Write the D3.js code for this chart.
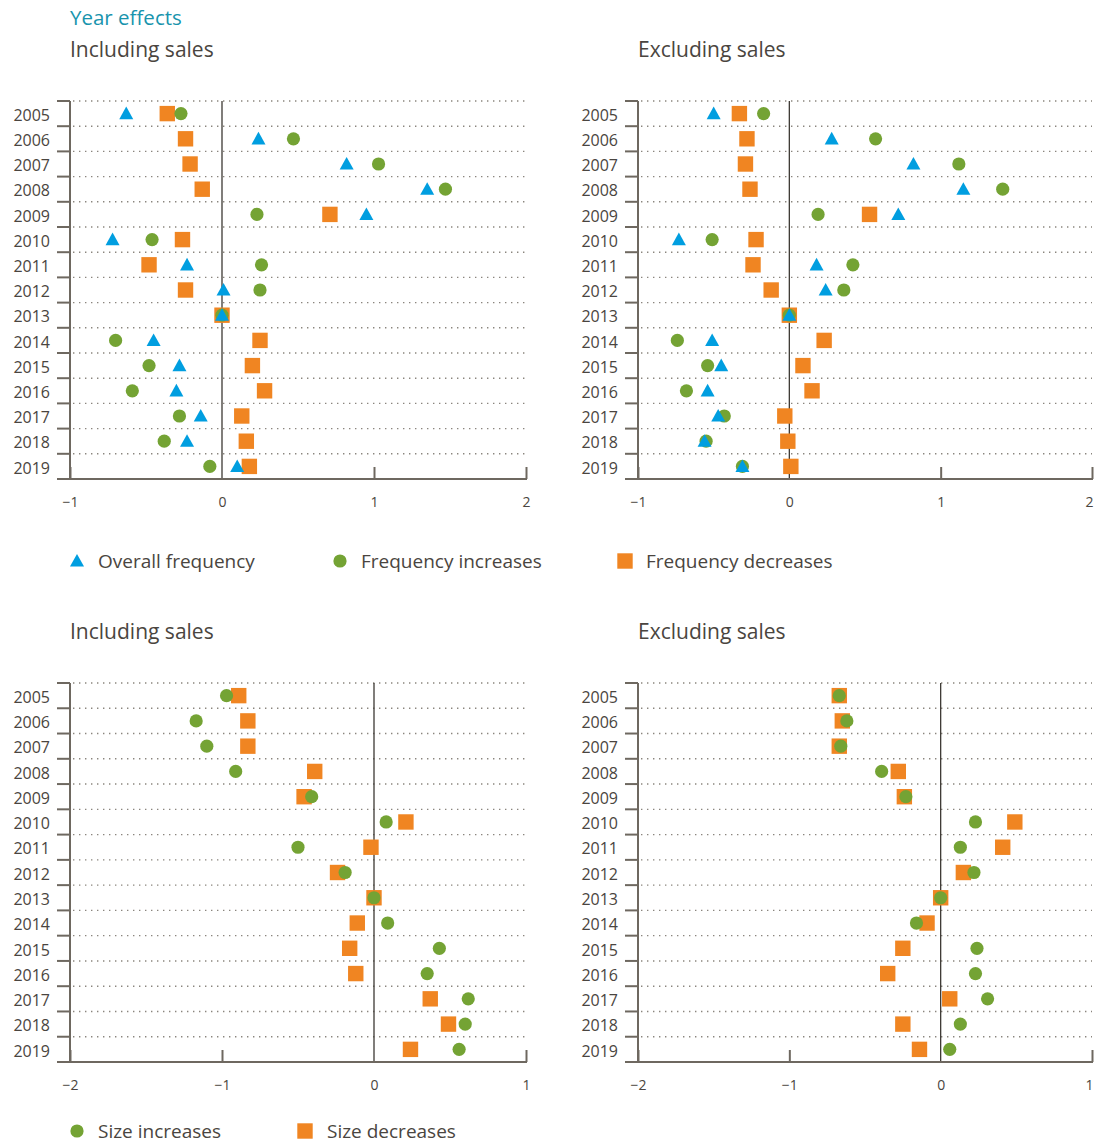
<!DOCTYPE html>
<html>
<head>
<meta charset="utf-8">
<script src="https://cdn.jsdelivr.net/npm/d3@7"></script>
<style>
  html, body { margin: 0; padding: 0; background: #fff; }
  svg { display: block; }
  text { font-family: "Open Sans", "Noto Sans", sans-serif; }
</style>
</head>
<body>
<svg id="chart" width="1094" height="1146"></svg>
<script>
// ---------- DATA ----------
const years = ["2005","2006","2007","2008","2009","2010","2011","2012","2013","2014","2015","2016","2017","2018","2019"];

const ticksFreq = [-1, 0, 1, 2];
const ticksSize = [-2, -1, 0, 1];

// Frequency, including sales
const inclOverallFreq = [-0.63, 0.24, 0.82, 1.35, 0.95, -0.72, -0.23, 0.01, 0, -0.45, -0.28, -0.30, -0.14, -0.23, 0.10];
const inclFreqIncr    = [-0.27, 0.47, 1.03, 1.47, 0.23, -0.46, 0.26, 0.25, 0, -0.70, -0.48, -0.59, -0.28, -0.38, -0.08];
const inclFreqDecr    = [-0.36, -0.24, -0.21, -0.13, 0.71, -0.26, -0.48, -0.24, 0, 0.25, 0.20, 0.28, 0.13, 0.16, 0.18];

// Frequency, excluding sales
const exclOverallFreq = [-0.50, 0.28, 0.82, 1.15, 0.72, -0.73, 0.18, 0.24, 0, -0.51, -0.45, -0.54, -0.47, -0.56, -0.31];
const exclFreqIncr    = [-0.17, 0.57, 1.12, 1.41, 0.19, -0.51, 0.42, 0.36, 0, -0.74, -0.54, -0.68, -0.43, -0.55, -0.31];
const exclFreqDecr    = [-0.33, -0.28, -0.29, -0.26, 0.53, -0.22, -0.24, -0.12, 0, 0.23, 0.09, 0.15, -0.03, -0.01, 0.01];

// Size, including sales
const inclSizeIncr = [-0.97, -1.17, -1.10, -0.91, -0.41, 0.08, -0.50, -0.19, 0, 0.09, 0.43, 0.35, 0.62, 0.60, 0.56];
const inclSizeDecr = [-0.89, -0.83, -0.83, -0.39, -0.46, 0.21, -0.02, -0.24, 0, -0.11, -0.16, -0.12, 0.37, 0.49, 0.24];

// Size, excluding sales
const exclSizeIncr = [-0.67, -0.62, -0.66, -0.39, -0.23, 0.23, 0.13, 0.22, 0, -0.16, 0.24, 0.23, 0.31, 0.13, 0.06];
const exclSizeDecr = [-0.67, -0.65, -0.67, -0.28, -0.24, 0.49, 0.41, 0.15, 0, -0.09, -0.25, -0.35, 0.06, -0.25, -0.14];

// ---------- STYLE ----------
const BLUE = "#009ee0", GREEN = "#74a334", ORANGE = "#f08522";
const TEXT = "#4a4540", AXIS = "#6e6860", ZERO = "#3d3934", GRID = "#8a857e";

const svg = d3.select("#chart");

// Titles
svg.append("text").attr("x", 70).attr("y", 25).attr("font-size", 20.5).attr("fill", "#1894ad").text("Year effects");
svg.append("text").attr("x", 70).attr("y", 57).attr("font-size", 21).attr("fill", TEXT).text("Including sales");
svg.append("text").attr("x", 638).attr("y", 57).attr("font-size", 21).attr("fill", TEXT).text("Excluding sales");
svg.append("text").attr("x", 70).attr("y", 639).attr("font-size", 21).attr("fill", TEXT).text("Including sales");
svg.append("text").attr("x", 638).attr("y", 639).attr("font-size", 21).attr("fill", TEXT).text("Excluding sales");

function marker(sel, type, color) {
  if (type === "square") {
    sel.append("rect").attr("x", -7.7).attr("y", -7.7).attr("width", 15.4).attr("height", 15.4).attr("fill", color);
  } else if (type === "circle") {
    sel.append("circle").attr("r", 6.6).attr("fill", color);
  } else {
    sel.append("path").attr("d", "M0,-7 L7,5.6 L-7,5.6 Z").attr("fill", color);
  }
}

function panel(cfg) {
  const x = d3.scaleLinear().domain(cfg.domain).range([cfg.x0, cfg.x1]);
  const y = d3.scaleBand().domain(years).range([cfg.y0, cfg.y1]).paddingInner(0).paddingOuter(0);
  const g = svg.append("g");
  const bounds = years.map(yr => y(yr)); // top edge of each band

  // dotted gridlines
  g.selectAll("line.grid").data(bounds).join("line")
    .attr("x1", cfg.x0 + 3).attr("x2", cfg.x1)
    .attr("y1", d => d).attr("y2", d => d)
    .attr("stroke", GRID).attr("stroke-width", 1.4)
    .attr("stroke-dasharray", "1.4,4.6");

  // left ticks at band boundaries
  g.selectAll("line.ytick").data(bounds).join("line")
    .attr("x1", cfg.x0 - 13).attr("x2", cfg.x0)
    .attr("y1", d => d).attr("y2", d => d)
    .attr("stroke", AXIS).attr("stroke-width", 2);

  // year labels via axis
  const ya = g.append("g").attr("transform", `translate(${cfg.x0 - 20},0)`)
    .call(d3.axisLeft(y).tickSize(0).tickPadding(0));
  ya.select(".domain").remove();
  ya.selectAll("text").attr("font-size", 16).attr("fill", TEXT)
    .attr("font-family", '"Open Sans", "Noto Sans", sans-serif').attr("dy", "0.45em");

  // zero line
  g.append("line").attr("x1", x(0)).attr("x2", x(0)).attr("y1", cfg.y0).attr("y2", cfg.y1)
    .attr("stroke", ZERO).attr("stroke-width", 1.3);

  // x axis
  const xa = g.append("g").attr("transform", `translate(0,${cfg.y1})`)
    .call(d3.axisBottom(x).tickValues(cfg.ticks).tickSize(-12).tickSizeOuter(0).tickPadding(18)
      .tickFormat(d => d < 0 ? "\u2212" + Math.abs(d) : String(d)));
  xa.select(".domain").remove();
  xa.selectAll(".tick line").attr("stroke", AXIS).attr("stroke-width", 2);
  xa.selectAll(".tick").filter(d => d === 0).select("line").remove();
  xa.selectAll("text").attr("font-size", 14).attr("fill", TEXT)
    .attr("font-family", '"Open Sans", "Noto Sans", sans-serif');
  if (cfg.x1 > 1080) {
    xa.selectAll(".tick").filter(d => d === cfg.domain[1]).select("text").attr("x", -3);
  }

  // axis lines
  g.append("line").attr("x1", cfg.x0).attr("x2", cfg.x0).attr("y1", cfg.y0).attr("y2", cfg.y1)
    .attr("stroke", AXIS).attr("stroke-width", 2);
  g.append("line").attr("x1", cfg.x0 - 13).attr("x2", cfg.x1 + 1).attr("y1", cfg.y1).attr("y2", cfg.y1)
    .attr("stroke", AXIS).attr("stroke-width", 2);

  // markers
  cfg.series.forEach(s => {
    g.selectAll(null).data(s.values.map((v, i) => ({ v, yr: years[i] }))).join("g")
      .attr("transform", d => `translate(${x(d.v)},${y(d.yr) + y.bandwidth() / 2})`)
      .each(function () { marker(d3.select(this), s.type, s.color); });
  });
}

panel({ x0: 70, x1: 526, y0: 101, y1: 479, domain: [-1, 2], ticks: ticksFreq,
  series: [ { values: inclFreqDecr, type: "square", color: ORANGE },
            { values: inclFreqIncr, type: "circle", color: GREEN },
            { values: inclOverallFreq, type: "triangle", color: BLUE } ] });
panel({ x0: 638, x1: 1092, y0: 101, y1: 479, domain: [-1, 2], ticks: ticksFreq,
  series: [ { values: exclFreqDecr, type: "square", color: ORANGE },
            { values: exclFreqIncr, type: "circle", color: GREEN },
            { values: exclOverallFreq, type: "triangle", color: BLUE } ] });
panel({ x0: 70, x1: 526, y0: 683, y1: 1062, domain: [-2, 1], ticks: ticksSize,
  series: [ { values: inclSizeDecr, type: "square", color: ORANGE },
            { values: inclSizeIncr, type: "circle", color: GREEN } ] });
panel({ x0: 638, x1: 1092, y0: 683, y1: 1062, domain: [-2, 1], ticks: ticksSize,
  series: [ { values: exclSizeDecr, type: "square", color: ORANGE },
            { values: exclSizeIncr, type: "circle", color: GREEN } ] });

// legends
function legend(items, cy) {
  items.forEach(it => {
    const g = svg.append("g").attr("transform", `translate(${it.x},${cy})`);
    marker(g, it.type, it.color);
    svg.append("text").attr("x", it.tx).attr("y", cy + 7).attr("font-size", 19).attr("fill", TEXT).text(it.label);
  });
}
legend([
  { x: 77, tx: 98, type: "triangle", color: BLUE, label: "Overall frequency" },
  { x: 340, tx: 361, type: "circle", color: GREEN, label: "Frequency increases" },
  { x: 625, tx: 646, type: "square", color: ORANGE, label: "Frequency decreases" }
], 561);
legend([
  { x: 77, tx: 98, type: "circle", color: GREEN, label: "Size increases" },
  { x: 305, tx: 327, type: "square", color: ORANGE, label: "Size decreases" }
], 1131);
</script>
</body>
</html>
